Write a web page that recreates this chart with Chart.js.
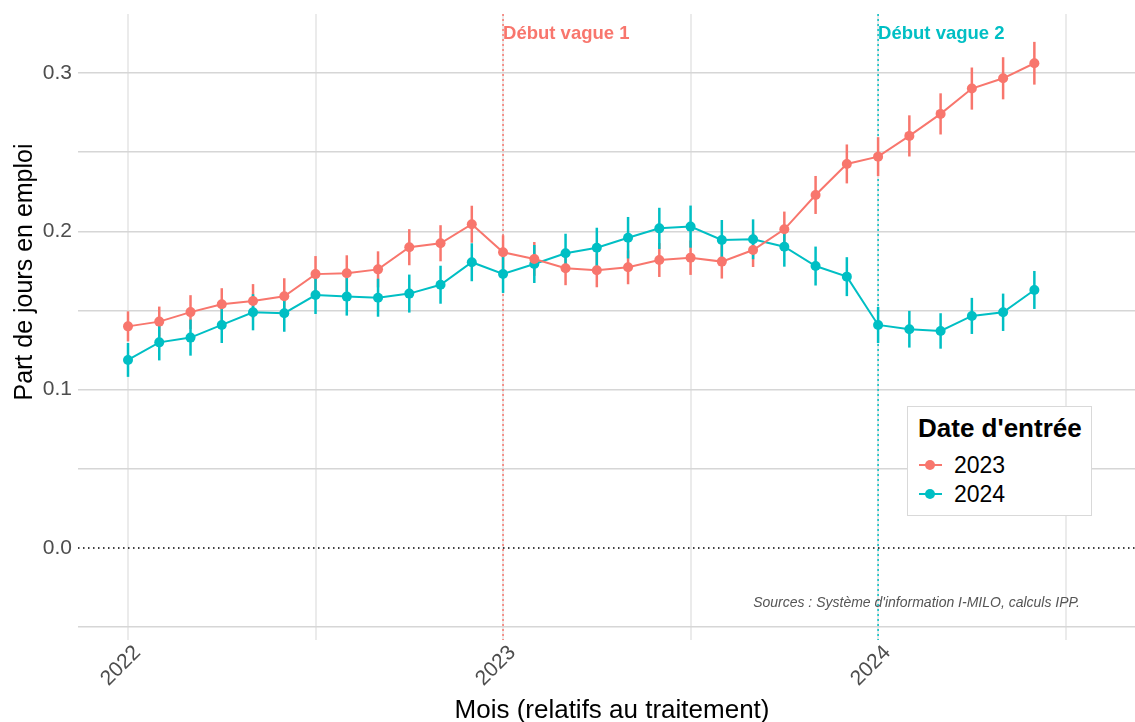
<!DOCTYPE html>
<html lang="fr">
<head>
<meta charset="utf-8">
<title>Part de jours en emploi</title>
<script src="https://cdn.jsdelivr.net/npm/chart.js@4.4.1/dist/chart.umd.min.js"></script>
<style>
  html, body { margin: 0; padding: 0; background: #fff; }
  #wrap { position: relative; width: 1135px; height: 722px; font-family: 'Liberation Sans', Arial, sans-serif; }
  #legend { position: absolute; left: 907px; top: 406px; width: 185px; height: 110px;
            border: 1px solid #d9d9d9; background: #fff; box-sizing: border-box; }
  #legend .title { position: absolute; left: 10px; top: 6px; font-size: 26px; font-weight: bold; line-height: 30px; color: #000; white-space: nowrap; }
  #legend .item { position: absolute; left: 0; height: 26px; width: 100%; }
  #legend .key-line { position: absolute; left: 11px; top: 12px; width: 23px; height: 2px; }
  #legend .key-dot { position: absolute; left: 17px; top: 8px; width: 10px; height: 10px; border-radius: 50%; }
  #legend .lab { position: absolute; left: 46px; top: 0; font-size: 23px; line-height: 26px; color: #000; }
</style>
</head>
<body>
<div id="wrap">
  <canvas id="chart" width="1135" height="722"></canvas>
  <div id="legend"></div>
</div>
<script>
// ── Data ──────────────────────────────────────────────
const months = [
  '2022-01', '2022-02', '2022-03', '2022-04', '2022-05', '2022-06',
  '2022-07', '2022-08', '2022-09', '2022-10', '2022-11', '2022-12',
  '2023-01', '2023-02', '2023-03', '2023-04', '2023-05', '2023-06',
  '2023-07', '2023-08', '2023-09', '2023-10', '2023-11', '2023-12',
  '2024-01', '2024-02', '2024-03', '2024-04', '2024-05', '2024-06',
];

// Date d'entrée 2023
const emploi2023 = [
  0.140, 0.143, 0.149, 0.154, 0.156, 0.159, 0.173, 0.1735, 0.176, 0.190, 0.1925, 0.2045,
  0.1868, 0.1826, 0.1767, 0.1754, 0.1773, 0.1819, 0.1834, 0.1809, 0.1882, 0.2013, 0.223, 0.2426,
  0.2472, 0.2603, 0.2742, 0.2902, 0.2967, 0.3062,
];
const ic2023 = [
  0.0095, 0.0095, 0.0107, 0.0101, 0.0107, 0.0114, 0.0114, 0.0114, 0.0114, 0.0114, 0.0114, 0.0117,
  0.0107, 0.0107, 0.0107, 0.0107, 0.0107, 0.0107, 0.0109, 0.0107, 0.0107, 0.0112, 0.0120, 0.0123,
  0.0123, 0.0130, 0.0130, 0.0133, 0.0133, 0.0135,
];

// Date d'entrée 2024
const emploi2024 = [
  0.1188, 0.1299, 0.1329, 0.1409, 0.1489, 0.1483, 0.1598, 0.1588, 0.1581, 0.1607, 0.1663, 0.1805,
  0.1731, 0.1794, 0.1862, 0.1897, 0.196, 0.2019, 0.203, 0.1946, 0.195, 0.1903, 0.1781, 0.1714,
  0.1409, 0.1382, 0.1371, 0.1466, 0.1489, 0.163,
];
const ic2024 = [
  0.0107, 0.0114, 0.0114, 0.0114, 0.0114, 0.0117, 0.0120, 0.0120, 0.0120, 0.0120, 0.0120, 0.0120,
  0.0120, 0.0120, 0.0123, 0.0126, 0.0131, 0.0130, 0.0133, 0.0126, 0.0126, 0.0126, 0.0123, 0.0123,
  0.0114, 0.0116, 0.0112, 0.0114, 0.0118, 0.0120,
];

const seriesNames = ['2023', '2024'];
const seriesColors = ['#F8766D', '#00BFC4'];

const yearLabels = ['2022', '2023', '2024'];
const vagueDates = ['2023-01', '2024-01'];
const vagueLabels = ['Début vague 1', 'Début vague 2'];

const yTicks = [-0.05, 0, 0.05, 0.1, 0.15, 0.2, 0.25, 0.3];
const xTicks = [0, 6, 12, 18, 24, 30];

const FONT = "'Liberation Sans', Arial, sans-serif";

// month string -> months since 2022-01
function monthIndex(s) {
  const [y, m] = s.split('-').map(Number);
  return (y - 2022) * 12 + (m - 1);
}

function toPoints(values) {
  return values.map((v, i) => ({ x: monthIndex(months[i]), y: v }));
}

// ── Plugins ───────────────────────────────────────────
const errorBars = [ic2023, ic2024];

const decorPlugin = {
  id: 'decor',
  beforeDatasetsDraw(chart) {
    const { ctx, chartArea, scales } = chart;
    const xs = scales.x, ys = scales.y;
    ctx.save();

    // dotted zero line
    ctx.strokeStyle = '#000';
    ctx.lineWidth = 1.4;
    ctx.setLineDash([1.5, 3.5]);
    const y0 = ys.getPixelForValue(0);
    ctx.beginPath();
    ctx.moveTo(chartArea.left, y0);
    ctx.lineTo(chartArea.right, y0);
    ctx.stroke();

    // dotted treatment lines
    vagueDates.forEach((d, i) => {
      const x = xs.getPixelForValue(monthIndex(d));
      ctx.strokeStyle = seriesColors[i];
      ctx.lineWidth = 1.5;
      ctx.setLineDash([2, 3]);
      ctx.beginPath();
      ctx.moveTo(x, chartArea.top);
      ctx.lineTo(x, chartArea.bottom);
      ctx.stroke();
    });
    ctx.setLineDash([]);

    // error bars
    chart.data.datasets.forEach((ds, di) => {
      ctx.strokeStyle = seriesColors[di];
      ctx.lineWidth = 2.5;
      ds.data.forEach((p, i) => {
        const e = errorBars[di][i];
        const x = xs.getPixelForValue(p.x);
        ctx.beginPath();
        ctx.moveTo(x, ys.getPixelForValue(p.y - e));
        ctx.lineTo(x, ys.getPixelForValue(p.y + e));
        ctx.stroke();
      });
    });
    ctx.restore();
  },
  afterDraw(chart) {
    const { ctx, chartArea, scales } = chart;
    ctx.save();

    // vague labels
    ctx.font = 'bold 18.5px ' + FONT;
    ctx.textAlign = 'left';
    ctx.textBaseline = 'middle';
    vagueDates.forEach((d, i) => {
      const x = scales.x.getPixelForValue(monthIndex(d));
      ctx.fillStyle = seriesColors[i];
      ctx.fillText(vagueLabels[i], x, 34);
    });

    // x tick labels, rotated 45° with top-right corner at the tick
    ctx.fillStyle = '#4d4d4d';
    ctx.font = '21px ' + FONT;
    ctx.textAlign = 'right';
    ctx.textBaseline = 'top';
    yearLabels.forEach((lab, i) => {
      const x = scales.x.getPixelForValue(i * 12);
      ctx.setTransform(1, 0, 0, 1, x + 2, chartArea.bottom + 2);
      ctx.rotate(-Math.PI / 4);
      ctx.fillText(lab, 0, 0);
    });
    ctx.setTransform(1, 0, 0, 1, 0, 0);

    // axis titles
    ctx.fillStyle = '#000';
    ctx.font = '26px ' + FONT;
    ctx.textAlign = 'center';
    ctx.textBaseline = 'alphabetic';
    ctx.fillText('Mois (relatifs au traitement)', 612, 718);

    ctx.font = '25px ' + FONT;
    ctx.textBaseline = 'middle';
    ctx.translate(25, 272);
    ctx.rotate(-Math.PI / 2);
    ctx.fillText('Part de jours en emploi', 0, 0);
    ctx.setTransform(1, 0, 0, 1, 0, 0);

    // caption
    ctx.fillStyle = '#555';
    ctx.font = 'italic 14px ' + FONT;
    ctx.textAlign = 'right';
    ctx.textBaseline = 'middle';
    ctx.fillText("Sources : Système d'information I-MILO, calculs IPP.", 1080, 603);
    ctx.restore();
  },
};

// ── Chart ─────────────────────────────────────────────
const datasets = [emploi2023, emploi2024].map((vals, i) => ({
  label: seriesNames[i],
  data: toPoints(vals),
  borderColor: seriesColors[i],
  backgroundColor: seriesColors[i],
  borderWidth: 2,
  pointRadius: 5,
  pointBorderWidth: 0,
  pointHoverRadius: 5,
  tension: 0,
}));

new Chart(document.getElementById('chart'), {
  type: 'line',
  data: { datasets },
  options: {
    responsive: false,
    animation: false,
    layout: { autoPadding: false, padding: { top: 14, right: 0, left: 0, bottom: 0 } },
    plugins: { legend: { display: false }, tooltip: { enabled: false } },
    scales: {
      x: {
        type: 'linear',
        min: -1.6,
        max: 32.22,
        afterBuildTicks(s) { s.ticks = xTicks.map(v => ({ value: v })); },
        afterFit(s) { s.height = 82; s.paddingLeft = 0; s.paddingRight = 0; },
        ticks: { display: false },
        grid: { color: '#ebebeb', lineWidth: 2, drawTicks: false },
        border: { display: false },
      },
      y: {
        min: -0.0581,
        max: 0.3373,
        afterBuildTicks(s) { s.ticks = yTicks.map(v => ({ value: v })); },
        afterFit(s) { s.width = 78; s.paddingTop = 0; s.paddingBottom = 0; },
        ticks: {
          padding: 6,
          color: '#4d4d4d',
          font: { family: FONT, size: 21 },
          callback(v) {
            const t = Math.round(v * 10);
            return Math.abs(v * 10 - t) < 1e-6 ? (t / 10).toFixed(1) : '';
          },
        },
        grid: {
          color: c => (c.tick && c.tick.value === 0 ? 'rgba(0,0,0,0)' : '#d6d6d6'),
          lineWidth: 1.5,
          drawTicks: false,
        },
        border: { display: false },
      },
    },
  },
  plugins: [decorPlugin],
});

// ── Legend (HTML) ─────────────────────────────────────
const legend = document.getElementById('legend');
legend.innerHTML = '<div class="title">Date d\'entrée</div>' + seriesNames.map((n, i) =>
  '<div class="item" style="top:' + (45 + i * 29) + 'px">' +
  '<div class="key-line" style="background:' + seriesColors[i] + '"></div>' +
  '<div class="key-dot" style="background:' + seriesColors[i] + '"></div>' +
  '<div class="lab">' + n + '</div></div>').join('');
</script>
</body>
</html>
